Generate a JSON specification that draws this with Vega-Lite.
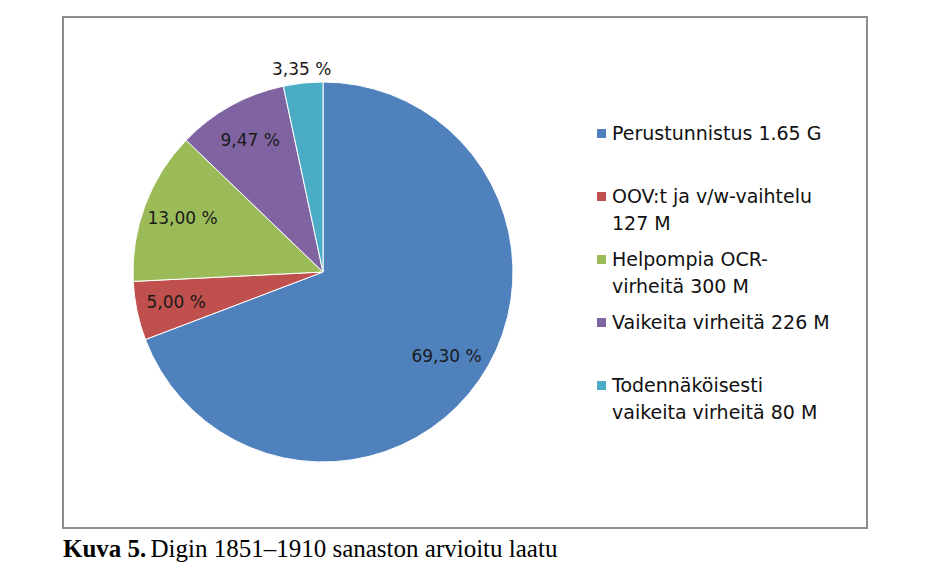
{
  "$schema": "https://vega.github.io/schema/vega-lite/v6.json",
  "width": 804,
  "height": 511,
  "autosize": {"type": "none"},
  "padding": {"left": 63, "top": 17, "right": 63, "bottom": 44},
  "background": "white",
  "view": {"stroke": "#8c8c8c", "strokeWidth": 2},
  "config": {
    "view": {"stroke": "#8c8c8c", "strokeWidth": 2},
    "font": "DejaVu Sans",
    "style": {"guide-label": {"lineHeight": 27}}
  },
  "title": {
    "text": "Kuva 5.",
    "subtitle": "\u200b\u00a0\u00a0\u00a0\u00a0\u00a0\u00a0\u00a0\u00a0\u00a0\u00a0\u00a0\u00a0\u00a0\u00a0Digin 1851–1910 sanaston arvioitu laatu",
    "orient": "bottom",
    "anchor": "start",
    "font": "Liberation Serif",
    "fontSize": 25,
    "fontWeight": "bold",
    "color": "black",
    "subtitleFont": "Liberation Serif",
    "subtitleFontSize": 25,
    "subtitleFontWeight": "normal",
    "subtitleColor": "black",
    "subtitlePadding": -25,
    "lineHeight": 25,
    "subtitleLineHeight": 25,
    "offset": 9
  },
  "data": {
    "values": [
      {"k": 1, "name": "Perustunnistus 1.65 G|\u200b", "pct": 69.30, "label": "69,30 %"},
      {"k": 2, "name": "OOV:t ja v/w-vaihtelu|127 M", "pct": 5.00, "label": "5,00 %"},
      {"k": 3, "name": "Helpompia OCR-|virheitä 300 M", "pct": 13.00, "label": "13,00 %"},
      {"k": 4, "name": "Vaikeita virheitä 226 M|\u200b", "pct": 9.47, "label": "9,47 %"},
      {"k": 5, "name": "Todennäköisesti|vaikeita virheitä 80 M", "pct": 3.35, "label": "3,35 %"}
    ]
  },
  "encoding": {
    "theta": {"field": "pct", "type": "quantitative", "stack": true},
    "order": {"field": "k", "type": "ordinal"}
  },
  "layer": [
    {
      "mark": {"type": "arc", "x": 260, "y": 255, "outerRadius": 190, "stroke": "white", "strokeWidth": 1},
      "encoding": {
        "color": {
          "field": "name",
          "type": "nominal",
          "scale": {
            "domain": ["Perustunnistus 1.65 G|\u200b", "OOV:t ja v/w-vaihtelu|127 M", "Helpompia OCR-|virheitä 300 M", "Vaikeita virheitä 226 M|\u200b", "Todennäköisesti|vaikeita virheitä 80 M"],
            "range": ["#4F81BD", "#C0504D", "#9BBB59", "#8064A2", "#4BACC6"]
          },
          "legend": {
            "orient": "none",
            "legendX": 529,
            "legendY": 107,
            "title": null,
            "padding": 0,
            "symbolType": "square",
            "symbolSize": 81,
            "symbolStrokeWidth": 0,
            "labelFont": "DejaVu Sans",
            "labelFontSize": 19,
            "labelColor": "#111111",
            "labelLimit": 400,
            "labelOffset": 1,
            "rowPadding": 16,
            "labelExpr": "split(datum.label, '|')"
          }
        }
      }
    },
    {
      "mark": {"type": "text", "x": 260, "y": 255, "radius": 150, "fontSize": 17, "font": "DejaVu Sans"},
      "encoding": {
        "text": {"condition": {"test": "datum.k < 5", "field": "label"}, "value": ""},
        "color": {"value": "#1a1a1a"}
      }
    },
    {
      "mark": {"type": "text", "x": 260, "y": 255, "radius": 203, "fontSize": 17, "font": "DejaVu Sans"},
      "encoding": {
        "text": {"condition": {"test": "datum.k == 5", "field": "label"}, "value": ""},
        "color": {"value": "#1a1a1a"}
      }
    }
  ]
}
